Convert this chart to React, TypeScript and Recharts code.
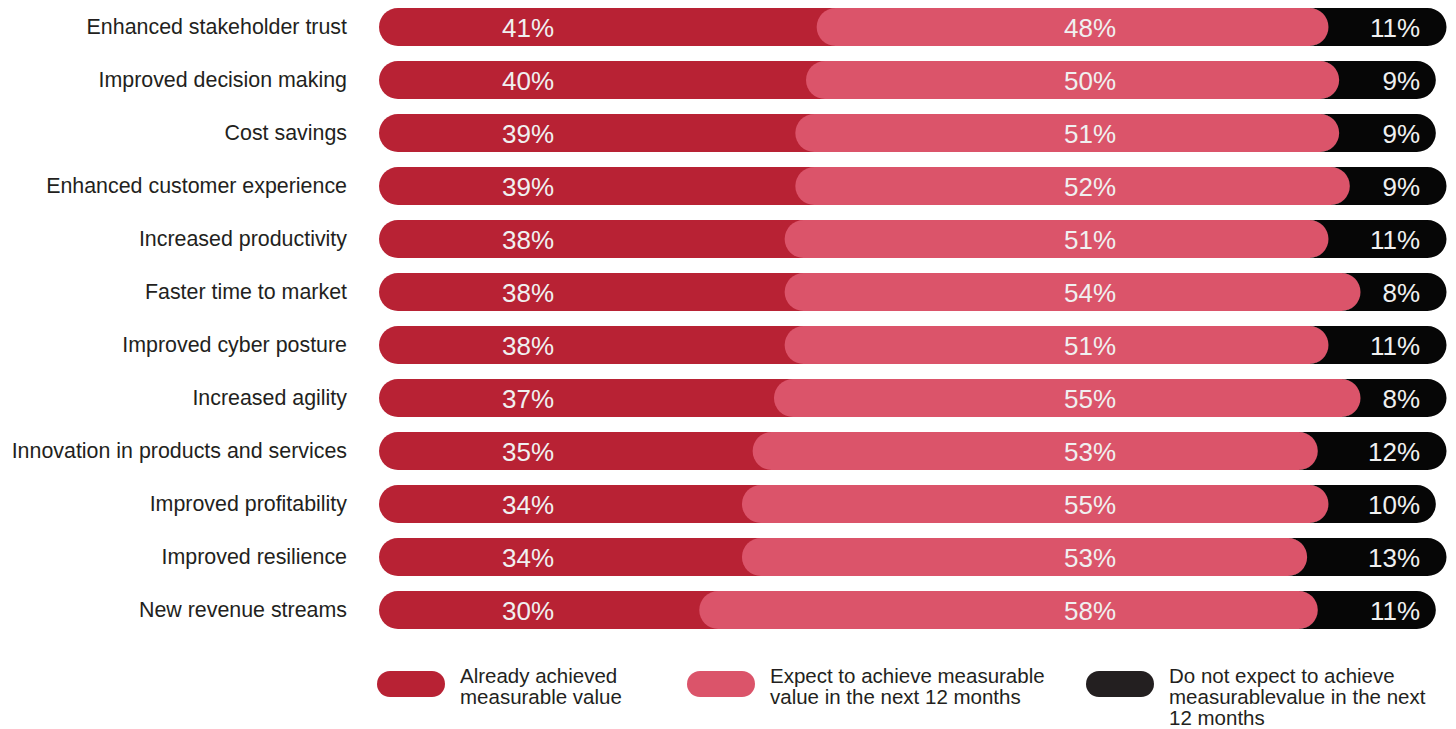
import { BarChart, Bar, XAxis, YAxis, LabelList } from 'recharts'

const categories = [
  'Enhanced stakeholder trust',
  'Improved decision making',
  'Cost savings',
  'Enhanced customer experience',
  'Increased productivity',
  'Faster time to market',
  'Improved cyber posture',
  'Increased agility',
  'Innovation in products and services',
  'Improved profitability',
  'Improved resilience',
  'New revenue streams',
]
const achieved = [41, 40, 39, 39, 38, 38, 38, 37, 35, 34, 34, 30]
const expected = [48, 50, 51, 52, 51, 54, 51, 55, 53, 55, 53, 58]
const notExpected = [11, 9, 9, 9, 11, 8, 11, 8, 12, 10, 13, 11]

const legendItems = [
  { key: 'achieved', label: ['Already achieved', 'measurable value'] },
  { key: 'expected', label: ['Expect to achieve measurable', 'value in the next 12 months'] },
  { key: 'notExpected', label: ['Do not expect to achieve', 'measurablevalue in the next', '12 months'] },
]

const COLORS: Record<string, string> = {
  achieved: '#B82234',
  expected: '#DB546A',
  notExpected: '#060606',
}
const LEGEND_COLORS: Record<string, string> = { ...COLORS, notExpected: '#231F20' }

const FONT = '"Liberation Sans", Arial, Helvetica, sans-serif'

const data = categories.map((name, i) => ({
  name,
  achieved: achieved[i],
  expected: expected[i],
  notExpected: notExpected[i],
}))

// red: rounded left end, runs on under the pink cap
function AchievedShape(props: any) {
  const { x, y, width, height, fill } = props
  const r = height / 2
  const right = x + width + r
  return (
    <path
      d={`M${x + r},${y} L${right},${y} L${right},${y + height} L${x + r},${y + height} A${r},${r} 0 0 1 ${x + r},${y} Z`}
      fill={fill}
    />
  )
}

// pink: full pill on top of the red
function ExpectedShape(props: any) {
  const { x, y, width, height, fill } = props
  const r = height / 2
  return <rect x={x} y={y} width={width} height={height} rx={r} ry={r} fill={fill} />
}

// black: rounded right end, left side hollowed out round the pink cap
function NotExpectedShape(props: any) {
  const { x, y, width, height, fill } = props
  const r = height / 2
  const left = x - r - 0.6
  const end = x + width - r
  return (
    <path
      d={`M${left},${y} L${end},${y} A${r},${r} 0 0 1 ${end},${y + height} L${left},${y + height} A${r},${r} 0 0 0 ${left},${y} Z`}
      fill={fill}
    />
  )
}

const pctStyle = { fontFamily: FONT, fontSize: 26, fill: '#F0F0F0' }

const labelAt = (cx: number, anchor: 'middle' | 'end') => (p: any) => (
  <text x={cx} y={p.y + p.height / 2 + 9.5} textAnchor={anchor} style={pctStyle}>
    {p.value}%
  </text>
)

export default function App() {
  return (
    <div style={{ position: 'absolute', left: 0, top: 0, width: 1456, height: 729, background: '#fff' }}>
      <BarChart
        width={1456}
        height={636}
        data={data}
        layout="vertical"
        margin={{ top: 0, right: 9.5, bottom: 0, left: 0 }}
        barSize={38}
      >
        <XAxis type="number" domain={[0, 100]} hide />
        <YAxis
          type="category"
          dataKey="name"
          width={379}
          axisLine={false}
          tickLine={false}
          tickSize={0}
          tickMargin={32}
          interval={0}
          tick={{ fontSize: 21.4, fill: '#231F20', fontFamily: FONT }}
        />
        <Bar dataKey="achieved" stackId="a" fill={COLORS.achieved} shape={<AchievedShape />} isAnimationActive={false}>
          <LabelList dataKey="achieved" content={labelAt(528, 'middle')} />
        </Bar>
        <Bar dataKey="expected" stackId="a" fill={COLORS.expected} shape={<ExpectedShape />} isAnimationActive={false}>
          <LabelList dataKey="expected" content={labelAt(1090, 'middle')} />
        </Bar>
        <Bar dataKey="notExpected" stackId="a" fill={COLORS.notExpected} shape={<NotExpectedShape />} isAnimationActive={false}>
          <LabelList dataKey="notExpected" content={labelAt(1420, 'end')} />
        </Bar>
      </BarChart>

      {/* legend */}
      {legendItems.map((item, i) => {
        const left = [377, 687, 1086][i]
        return (
          <div key={item.key} style={{ position: 'absolute', left, top: 670, display: 'flex', alignItems: 'flex-start' }}>
            <div style={{ width: 68, height: 26, borderRadius: 13, background: LEGEND_COLORS[item.key], marginTop: 1 }} />
            <div style={{ marginLeft: 15, marginTop: -5, fontFamily: FONT, fontSize: 20.5, lineHeight: '21px', color: '#231F20', whiteSpace: 'nowrap' }}>
              {item.label.map((line) => <div key={line}>{line}</div>)}
            </div>
          </div>
        )
      })}
    </div>
  )
}
